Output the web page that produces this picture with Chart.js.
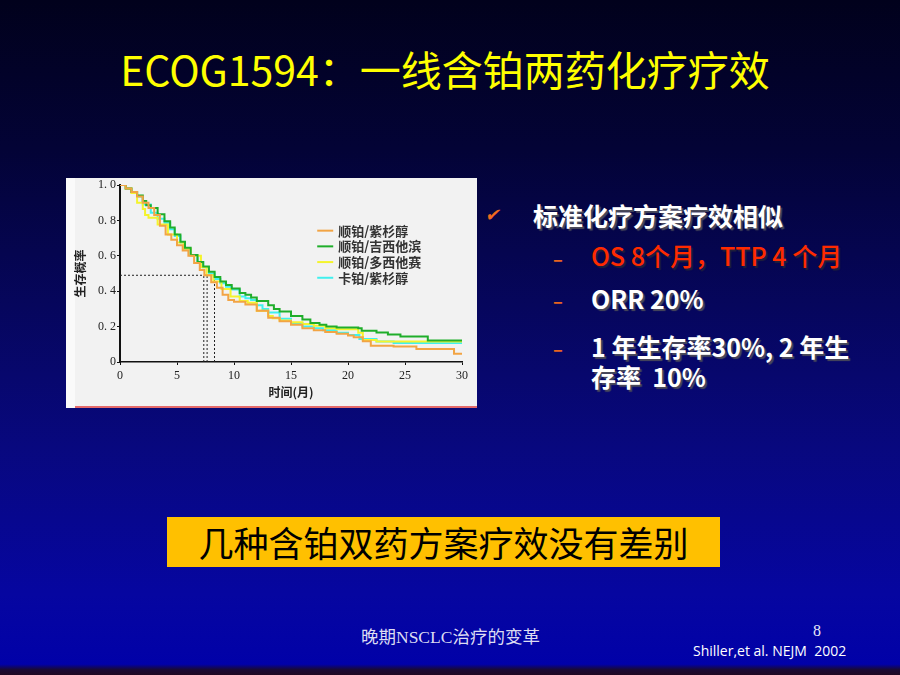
<!DOCTYPE html>
<html lang="zh-CN">
<head>
<meta charset="utf-8">
<title>ECOG1594：一线含铂两药化疗疗效</title>
<script src="https://cdn.jsdelivr.net/npm/chart.js@4.4.1/dist/chart.umd.min.js"></script>
<style>
  html, body { margin: 0; padding: 0; }
  body {
    width: 900px; height: 675px; overflow: hidden; position: relative;
    background: linear-gradient(to bottom, #01011c 0%, #030336 22%, #06065c 45%, #08087e 66%, #0606a0 88%, #0101a8 98.4%, #1a0a34 99.2%, #200822 100%);
    font-family: "Noto Sans CJK SC", "Noto Sans", sans-serif;
  }
  .abs { position: absolute; white-space: nowrap; }
  #title { left: 0; width: 890px; top: 44px; line-height: 48px; text-align: center; font-size: 41px; color: #ffff00; }
  #plotBox { left: 66px; top: 178px; width: 411px; height: 230px; }
  #plotEdge { left: 75px; top: 406px; width: 402px; height: 2px; background: #e46a6a; }
  .bullet { color: #fff; font-weight: bold; font-size: 25px; line-height: 26px; text-shadow: 2px 2px 1px #4a4a5a; }
  .red { color: #ff2a00; font-weight: 500; text-shadow: 2px 2px 1px #20203a; }
  .dash { color: #e8641e; font-size: 18px; line-height: 20px; font-weight: bold; }
  #check { left: 486px; top: 204px; font-family: "DejaVu Sans"; font-size: 18px; line-height: 22px; color: #f06a1e; transform: skewX(-12deg); }
  #summary { left: 167px; top: 517px; width: 553px; height: 50px; background: #ffc000; color: #000; font-size: 35px; line-height: 50px; text-align: center; }
  #footer { left: 361px; top: 626px; font-family: "Liberation Serif", "Noto Sans CJK SC", serif; font-size: 17.5px; line-height: 22px; color: #dcdcf2; }
  #pageNo { left: 813px; top: 623px; font-family: "Liberation Serif", serif; font-size: 16px; line-height: 16px; color: #e8e8f8; }
  #cite { left: 693px; top: 643px; font-family: "Open Sans", sans-serif; font-size: 14px; line-height: 16px; color: #ffffff; }
</style>
</head>
<body>
<div id="title" class="abs">ECOG1594：一线含铂两药化疗疗效</div>

<div id="plotBox" class="abs"><canvas id="kmChart"></canvas></div>
<div id="plotEdge" class="abs"></div>

<div id="check" class="abs">✔</div>
<div class="abs bullet" style="left:533px; top:202px;">标准化疗方案疗效相似</div>
<div class="abs dash" style="left:553px; top:248px;">–</div>
<div class="abs bullet red" style="left:591px; top:242px;">OS 8个月，TTP 4 个月</div>
<div class="abs dash" style="left:553px; top:290px;">–</div>
<div class="abs bullet" style="left:591px; top:285px;">ORR 20%</div>
<div class="abs dash" style="left:553px; top:338px;">–</div>
<div class="abs bullet" style="left:591px; top:331px; line-height:30px;">1 年生存率30%, 2 年生<br>存率&nbsp; 10%</div>

<div id="summary" class="abs">几种含铂双药方案疗效没有差别</div>

<div id="footer" class="abs">晚期NSCLC治疗的变革</div>
<div id="pageNo" class="abs">8</div>
<div id="cite" class="abs">Shiller,et al. NEJM &nbsp;2002</div>

<script>
// Kaplan-Meier curves: [month, survival probability]
const armLabels = ['顺铂/紫杉醇', '顺铂/吉西他滨', '顺铂/多西他赛', '卡铂/紫杉醇'];
const armColors = ['#f2a444', '#1fae2a', '#f4f42c', '#40f0ee'];

const cisPac = [
    [0, 1.0], [0.5, 0.98], [1, 0.96], [1.5, 0.935], [2, 0.90], [2.5, 0.87], [3, 0.83],
    [3.5, 0.77], [4, 0.72], [4.5, 0.69], [5, 0.66], [5.5, 0.63], [6, 0.60], [6.5, 0.56],
    [7, 0.52], [7.4, 0.49], [8, 0.45], [8.5, 0.42], [9, 0.38], [9.5, 0.35], [10, 0.34],
    [11, 0.325], [12, 0.29], [13, 0.25], [14, 0.23], [15, 0.21], [16, 0.19], [17, 0.18],
    [18, 0.17], [19, 0.16], [20, 0.15], [20.5, 0.14], [21.3, 0.117], [22, 0.092],
    [24, 0.088], [26, 0.074], [29.3, 0.047], [30, 0.047]
];
const cisGem = [
    [0, 1.0], [0.5, 0.98], [1, 0.96], [1.5, 0.94], [2, 0.91], [2.3, 0.885], [2.7, 0.87],
    [3.3, 0.835], [3.9, 0.795], [4.4, 0.76], [4.8, 0.72], [5.3, 0.68], [5.7, 0.645],
    [6.2, 0.605], [6.8, 0.565], [7.3, 0.54], [7.8, 0.51], [8.3, 0.48], [8.8, 0.455],
    [9.3, 0.435], [9.8, 0.415], [10.5, 0.39], [11, 0.38], [11.5, 0.365], [12, 0.345],
    [13, 0.32], [13.5, 0.30], [14, 0.285], [15, 0.26], [16, 0.24], [16.7, 0.22],
    [17.5, 0.21], [18.1, 0.20], [19, 0.195], [20.9, 0.19], [21.2, 0.177], [22.5, 0.166],
    [23.5, 0.155], [24.6, 0.144], [27, 0.121], [30, 0.121]
];
const cisDoc = [
    [0, 1.0], [0.5, 0.98], [1, 0.955], [1.5, 0.90], [2, 0.865], [2.2, 0.83], [2.5, 0.815],
    [3.3, 0.777], [4.2, 0.72], [5, 0.675], [5.6, 0.64], [6.2, 0.60], [7.1, 0.535],
    [7.6, 0.49], [8.2, 0.455], [8.9, 0.413], [9.7, 0.37], [10.5, 0.345], [11.2, 0.335],
    [12, 0.29], [13, 0.26], [13.4, 0.247], [14, 0.235], [15, 0.225], [16, 0.215],
    [17, 0.205], [18, 0.19], [19, 0.185], [20.9, 0.165], [21.3, 0.125], [22.5, 0.116],
    [30, 0.112]
];
const carboPac = [
    [0, 1.0], [0.5, 0.98], [1, 0.96], [1.5, 0.935], [2, 0.89], [2.7, 0.843], [3.3, 0.81],
    [3.9, 0.787], [4.4, 0.75], [4.8, 0.712], [5.3, 0.675], [5.7, 0.637], [6.2, 0.60],
    [6.8, 0.563], [7.3, 0.535], [7.8, 0.50], [8.3, 0.469], [8.8, 0.445], [9.3, 0.425],
    [9.8, 0.41], [10.5, 0.37], [11, 0.36], [11.5, 0.35], [12, 0.32], [12.5, 0.30],
    [13, 0.28], [14, 0.245], [15, 0.22], [16, 0.20], [17, 0.19], [17.8, 0.18], [19, 0.165],
    [20, 0.153], [21, 0.13], [22.5, 0.116], [24, 0.107], [30, 0.107]
];
const arms = [cisPac, cisGem, cisDoc, carboPac];

// median survival guides (dotted)
const medianMonths = [7.35, 7.64, 8.29];
const medianLevel = 0.49;

const monthTicks = [0, 5, 10, 15, 20, 25, 30];
const survivalTicks = [0, 0.2, 0.4, 0.6, 0.8, 1.0];

const plotBackground = {
    id: 'plotBackground',
    beforeDraw(chart) {
        const { ctx, width, height } = chart;
        ctx.save();
        ctx.fillStyle = '#f2f2f2';
        ctx.fillRect(0, 0, width, height);
        ctx.fillStyle = '#fafafa';
        ctx.fillRect(0, 0, 9, height);
        ctx.restore();
    }
};

const insideLegend = {
    id: 'insideLegend',
    afterDraw(chart) {
        const { ctx } = chart;
        const x0 = chart.scales.x.getPixelForValue(17.3);
        const y0 = chart.scales.y.getPixelForValue(0.742);
        ctx.save();
        ctx.font = 'bold 13px "Noto Sans CJK SC"';
        ctx.textBaseline = 'middle';
        armLabels.forEach((label, i) => {
            const y = y0 + i * 15.7;
            ctx.strokeStyle = armColors[i];
            ctx.lineWidth = 2;
            ctx.beginPath();
            ctx.moveTo(x0, y);
            ctx.lineTo(x0 + 16, y);
            ctx.stroke();
            ctx.fillStyle = '#333';
            ctx.fillText(label, x0 + 21, y);
        });
        ctx.restore();
    }
};

const guide = (points) => ({
    data: points,
    borderColor: '#222',
    borderWidth: 1,
    borderDash: [2, 2],
    pointRadius: 0,
    order: 1
});

const datasets = arms.map((curve, i) => ({
    label: armLabels[i],
    data: curve.map(([x, y]) => ({ x, y })),
    borderColor: armColors[i],
    borderWidth: 2,
    stepped: true,
    pointRadius: 0,
    fill: false,
    order: 0
}));
datasets.push(guide([{ x: 0, y: medianLevel }, { x: Math.max(...medianMonths), y: medianLevel }]));
medianMonths.forEach((m) => datasets.push(guide([{ x: m, y: 0 }, { x: m, y: medianLevel }])));

const tickFont = { family: 'Liberation Serif', size: 12 };
const titleFont = { family: 'Noto Sans CJK SC', size: 12, weight: 'bold' };

new Chart(document.getElementById('kmChart'), {
    type: 'line',
    data: { datasets },
    options: {
        responsive: true,
        maintainAspectRatio: false,
        animation: false,
        layout: { padding: { top: 6, right: 15, left: 0, bottom: 0 } },
        plugins: { legend: { display: false }, tooltip: { enabled: false } },
        scales: {
            x: {
                type: 'linear',
                min: 0,
                max: 30,
                afterBuildTicks: (s) => { s.ticks = monthTicks.map((v) => ({ value: v })); },
                afterFit: (s) => { s.height = 46; },
                ticks: { font: tickFont, color: '#222', padding: 4, maxRotation: 0 },
                grid: { drawOnChartArea: false, tickLength: 3, color: '#111' },
                border: { color: '#111', width: 1.5 },
                title: { display: true, text: '时间(月)', font: titleFont, color: '#222', padding: { top: 0, bottom: 8 } }
            },
            y: {
                type: 'linear',
                min: 0,
                max: 1,
                afterBuildTicks: (s) => { s.ticks = survivalTicks.map((v) => ({ value: v })); },
                afterFit: (s) => { s.width = 54; },
                ticks: {
                    font: { ...tickFont, lineHeight: 1 },
                    color: '#222',
                    padding: 1,
                    callback: (v) => (v === 0 ? '0' : v.toFixed(1).replace('.', '. '))
                },
                grid: { drawOnChartArea: false, tickLength: 3, color: '#111' },
                border: { color: '#111', width: 2 },
                title: { display: true, text: '生存概率', font: titleFont, color: '#222', padding: { top: 7, bottom: 0 } }
            }
        }
    },
    plugins: [plotBackground, insideLegend]
});
</script>
</body>
</html>
